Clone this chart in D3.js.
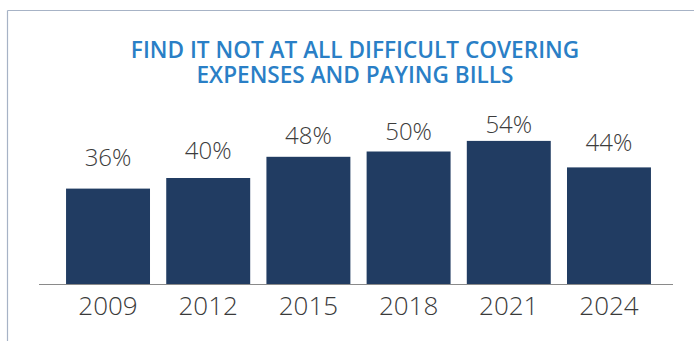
<!DOCTYPE html>
<html>
<head>
<meta charset="utf-8">
<script src="https://cdn.jsdelivr.net/npm/d3@7"></script>
<style>
  html, body { margin: 0; padding: 0; background: #fff; }
  svg { display: block; }
  text { font-family: "Open Sans", "Noto Sans", sans-serif; }
</style>
</head>
<body>
<svg id="chart" width="694" height="341"></svg>
<script>
// Survey years and share of respondents (%)
const years = ["2009", "2012", "2015", "2018", "2021", "2024"];
const shares = [36, 40, 48, 50, 54, 44];
const titleLines = ["FIND IT NOT AT ALL DIFFICULT COVERING", "EXPENSES AND PAYING BILLS"];

const W = 694, H = 341;
const svg = d3.select("#chart");

// Frame: top and left rules
svg.append("line").attr("x1", 7.5).attr("x2", W).attr("y1", 10.5).attr("y2", 10.5)
  .attr("stroke", "#a7b3c6").attr("stroke-width", 1.2);
svg.append("line").attr("x1", 7.5).attr("x2", 7.5).attr("y1", 10.5).attr("y2", H)
  .attr("stroke", "#a7b3c6").attr("stroke-width", 1.2);

// Title, two lines
svg.append("g").selectAll("text").data(titleLines).join("text")
  .attr("x", 355).attr("y", (d, i) => 58 + i * 25)
  .attr("text-anchor", "middle")
  .attr("fill", "#2a7fc6")
  .attr("font-size", 22.6).attr("font-weight", 600)
  .text(d => d);

const baseY = 284;
const x = d3.scaleBand().domain(years).range([42, 675]).paddingInner(0.162).paddingOuter(0.24);
const y = d3.scaleLinear().domain([0, 100]).range([baseY, 19]);
// value labels sit on a compressed scale above the bars
const yLabel = d3.scaleLinear().domain([36, 54]).range([166, 133]);

const data = years.map((yr, i) => ({ year: yr, value: shares[i] }));

svg.append("g").selectAll("rect").data(data).join("rect")
  .attr("x", d => x(d.year))
  .attr("width", x.bandwidth())
  .attr("y", d => y(d.value))
  .attr("height", d => baseY - y(d.value))
  .attr("fill", "#213c62");

svg.append("g").selectAll("text").data(data).join("text")
  .attr("x", d => x(d.year) + x.bandwidth() / 2)
  .attr("y", d => yLabel(d.value))
  .attr("text-anchor", "middle")
  .attr("fill", "#3c3c3c")
  .attr("font-size", 24).attr("font-weight", 300)
  .text(d => d.value + "%");

// Category axis
const axis = svg.append("g").attr("transform", `translate(0,${baseY})`)
  .call(d3.axisBottom(x).tickSize(0).tickPadding(0));
axis.select(".domain").remove();
axis.selectAll("text")
  .attr("dy", null)
  .attr("y", 31)
  .attr("fill", "#3a3a3a")
  .attr("font-size", 26).attr("font-weight", 300)
  .attr("font-family", "'Open Sans', 'Noto Sans', sans-serif");

svg.append("line").attr("x1", 39).attr("x2", 673).attr("y1", baseY + 0.5).attr("y2", baseY + 0.5)
  .attr("stroke", "#8a8a8a").attr("stroke-width", 1.2);
</script>
</body>
</html>
